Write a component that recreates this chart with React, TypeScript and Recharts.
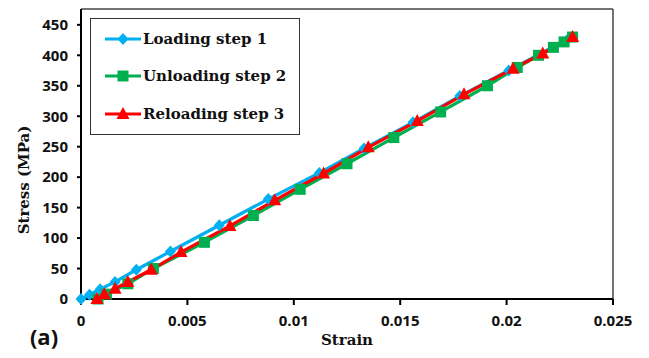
import React from 'react';
import { LineChart, Line, XAxis, YAxis, ReferenceLine } from 'recharts';

// strain / stress (MPa)
const loadingStrain = [0, 0.0004, 0.0009, 0.0016, 0.0026, 0.0042, 0.0065, 0.0088, 0.0112, 0.0133, 0.0156, 0.0178, 0.0201, 0.0229];
const loadingStress = [0, 7, 16, 28, 48, 78, 121, 164, 207, 247, 290, 333, 375, 427];

const unloadingStrain = [0.0231, 0.0227, 0.0222, 0.0215, 0.0205, 0.0191, 0.0169, 0.0147, 0.0125, 0.0103, 0.0081, 0.0058, 0.0034, 0.0022, 0.0012, 0.0008];
const unloadingStress = [430, 422, 413, 400, 380, 350, 307, 265, 222, 180, 137, 93, 50, 25, 8, 0];

const reloadingStrain = [0.00075, 0.0011, 0.0016, 0.0022, 0.0033, 0.0047, 0.007, 0.0091, 0.0114, 0.0135, 0.0158, 0.018, 0.0203, 0.0217, 0.0231];
const reloadingStress = [0, 8, 17, 28, 48, 77, 120, 162, 206, 249, 292, 336, 378, 403, 430];

const xTicks = [0, 0.005, 0.01, 0.015, 0.02, 0.025];
const yTicks = [0, 50, 100, 150, 200, 250, 300, 350, 400, 450];
const X_MAX = 0.025;
const Y_MAX = 476;

const SERIES = [
  { name: 'Loading step 1', color: '#00B0F0', shape: 'diamond' },
  { name: 'Unloading step 2', color: '#00B050', shape: 'square' },
  { name: 'Reloading step 3', color: '#FF0000', shape: 'triangle' },
];

const toPoints = (xs: number[], ys: number[]) => xs.map((x, i) => ({ x, y: ys[i] }));
const loading = toPoints(loadingStrain, loadingStress);
const unloading = toPoints(unloadingStrain, unloadingStress);
const reloading = toPoints(reloadingStrain, reloadingStress);

const tickFont = { fontFamily: '"Open Sans", sans-serif', fontWeight: 700, fontSize: 15, fill: '#111' };
const serifBold = '"DejaVu Serif", serif';

const Marker = ({ cx, cy, shape, color }: any) => {
  if (cx == null || cy == null) return null;
  if (shape === 'diamond') {
    return <polygon points={`${cx},${cy - 6} ${cx + 5.5},${cy} ${cx},${cy + 6} ${cx - 5.5},${cy}`} fill={color} />;
  }
  if (shape === 'square') {
    return <rect x={cx - 5.5} y={cy - 5.5} width={11} height={11} fill={color} />;
  }
  return <polygon points={`${cx},${cy - 7} ${cx + 6.5},${cy + 5} ${cx - 6.5},${cy + 5}`} fill={color} />;
};

const LegendBox = () => (
  <div
    style={{
      position: 'absolute',
      left: 90,
      top: 18,
      border: '1.5px solid #333',
      background: '#fff',
      padding: '1px 10px 1px 13px',
      width: 185,
    }}
  >
    {SERIES.map((s) => (
      <div key={s.name} style={{ display: 'flex', alignItems: 'center', height: 37.5 }}>
        <svg width={38} height={16} style={{ marginRight: 1 }}>
          <line x1={1} y1={8} x2={37} y2={8} stroke={s.color} strokeWidth={3} />
          <Marker cx={19} cy={8} shape={s.shape} color={s.color} />
        </svg>
        <span style={{ fontFamily: serifBold, fontWeight: 700, fontSize: 15, color: '#111', whiteSpace: 'nowrap' }}>{s.name}</span>
      </div>
    ))}
  </div>
);

export default function App() {
  return (
    <div style={{ position: 'absolute', left: 0, top: 0, width: 649, height: 358, background: '#fff' }}>
      <LineChart width={649} height={358} margin={{ top: 9, right: 36, bottom: 0, left: 0 }}>
        <XAxis
          type="number"
          dataKey="x"
          domain={[0, X_MAX]}
          ticks={xTicks}
          interval={0}
          height={59}
          tick={tickFont}
          tickSize={6}
          tickMargin={10}
          tickLine={{ stroke: '#000', strokeWidth: 2 }}
          axisLine={{ stroke: '#000', strokeWidth: 2 }}
        />
        <YAxis
          type="number"
          domain={[0, Y_MAX]}
          ticks={yTicks}
          interval={0}
          width={81}
          tick={tickFont}
          tickSize={4}
          tickMargin={9}
          tickLine={{ stroke: '#000', strokeWidth: 2 }}
          axisLine={{ stroke: '#000', strokeWidth: 2 }}
        />
        <ReferenceLine y={Y_MAX} stroke="#444" strokeWidth={1.5} />
        <ReferenceLine x={X_MAX} stroke="#444" strokeWidth={1.5} />
        <Line
          data={loading}
          dataKey="y"
          name={SERIES[0].name}
          stroke={SERIES[0].color}
          strokeWidth={3.2}
          dot={(p: any) => <Marker key={`l-${p.index}`} cx={p.cx} cy={p.cy} shape="diamond" color={SERIES[0].color} />}
          activeDot={false}
          isAnimationActive={false}
        />
        <Line
          data={unloading}
          dataKey="y"
          name={SERIES[1].name}
          stroke={SERIES[1].color}
          strokeWidth={3.2}
          dot={(p: any) => <Marker key={`u-${p.index}`} cx={p.cx} cy={p.cy} shape="square" color={SERIES[1].color} />}
          activeDot={false}
          isAnimationActive={false}
        />
        <Line
          data={reloading}
          dataKey="y"
          name={SERIES[2].name}
          stroke={SERIES[2].color}
          strokeWidth={3.2}
          dot={(p: any) => <Marker key={`r-${p.index}`} cx={p.cx} cy={p.cy} shape="triangle" color={SERIES[2].color} />}
          activeDot={false}
          isAnimationActive={false}
        />
      </LineChart>
      <LegendBox />
      <div
        style={{
          position: 'absolute',
          left: 24,
          top: 180,
          transform: 'translate(-50%, -50%) rotate(-90deg)',
          fontFamily: serifBold,
          fontWeight: 700,
          fontSize: 15,
          color: '#111',
          whiteSpace: 'nowrap',
        }}
      >
        Stress (MPa)
      </div>
      <div
        style={{
          position: 'absolute',
          left: 347,
          top: 340,
          transform: 'translate(-50%, -50%)',
          fontFamily: serifBold,
          fontWeight: 700,
          fontSize: 15,
          color: '#111',
        }}
      >
        Strain
      </div>
      <div
        style={{
          position: 'absolute',
          left: 44,
          top: 336,
          transform: 'translate(-50%, -50%)',
          fontFamily: '"Open Sans", sans-serif',
          fontWeight: 700,
          fontSize: 22,
          color: '#111',
        }}
      >
        (a)
      </div>
    </div>
  );
}
